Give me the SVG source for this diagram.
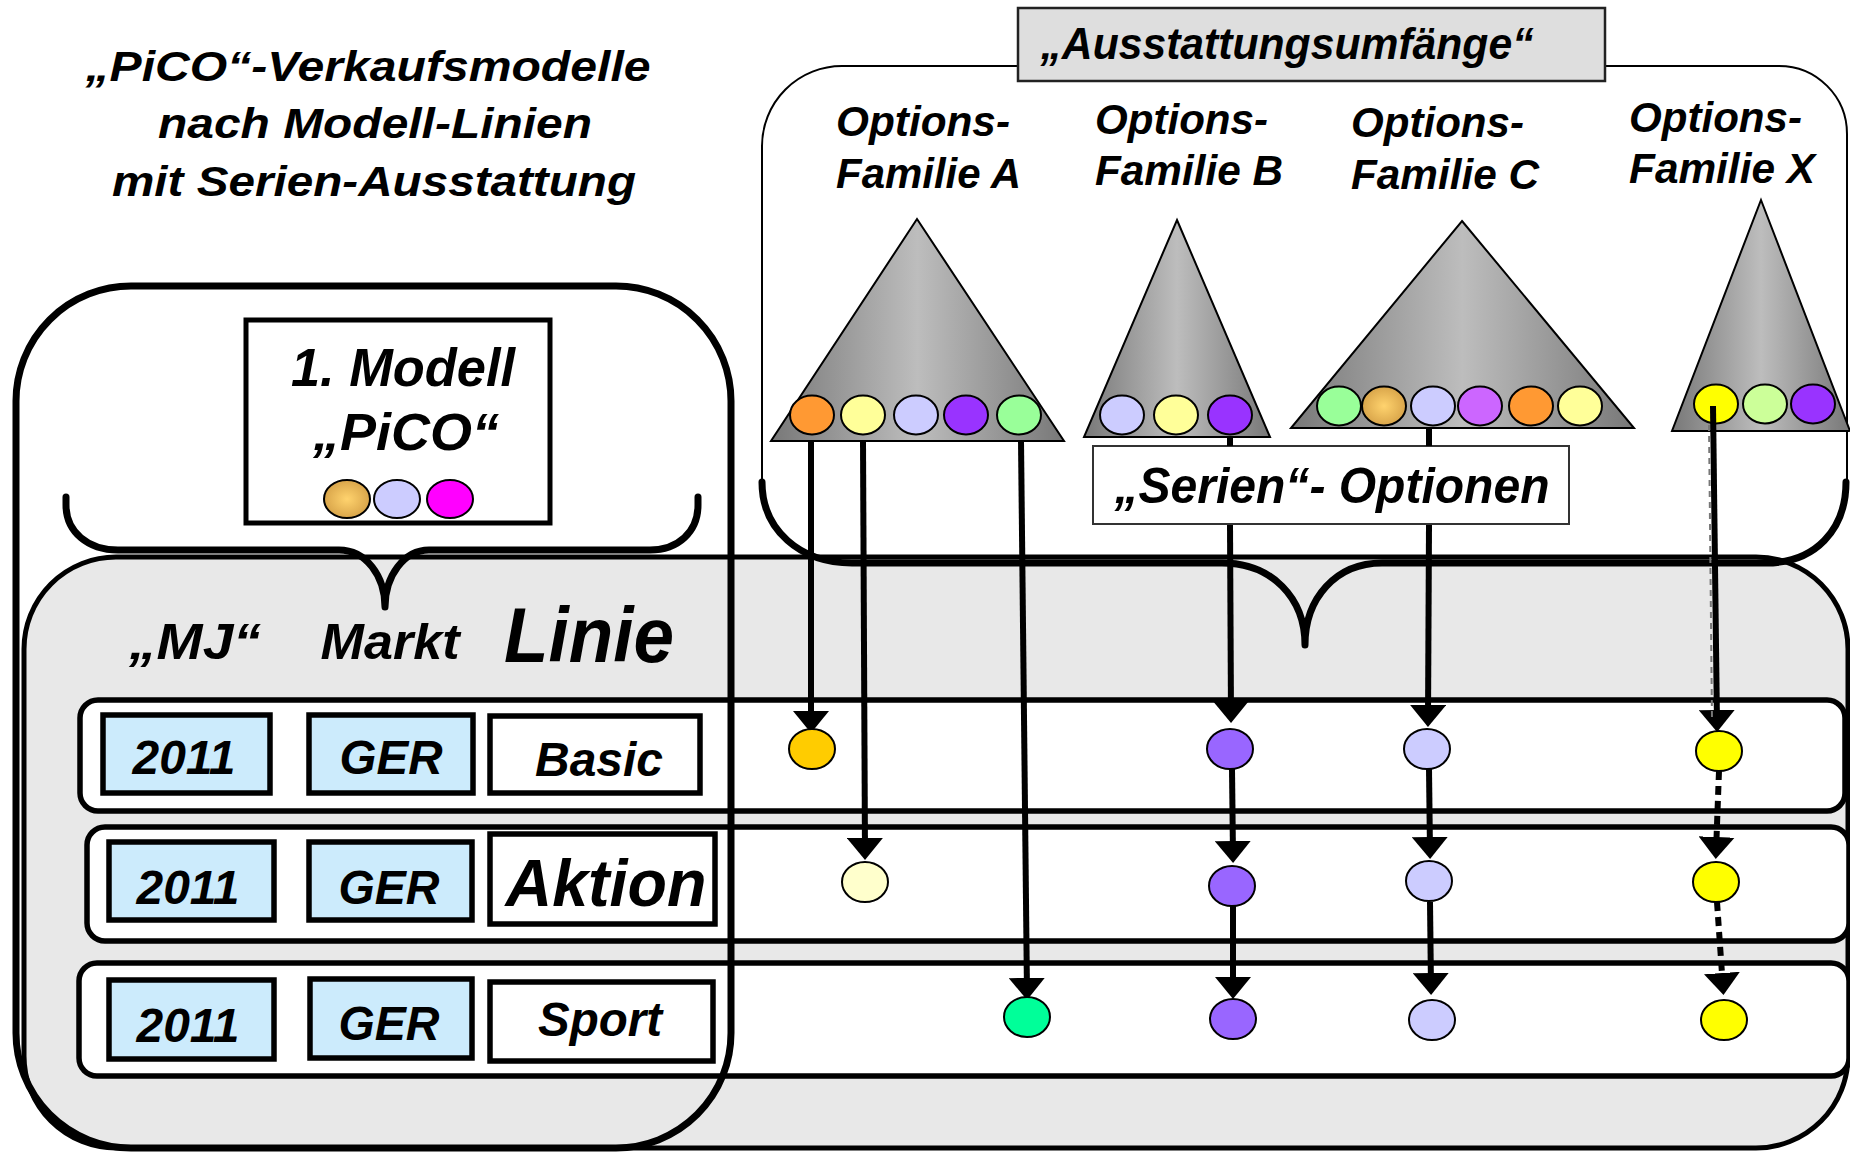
<svg xmlns="http://www.w3.org/2000/svg" width="1850" height="1154" viewBox="0 0 1850 1154">
<style>
text{font-family:"Liberation Sans",Arial,sans-serif;font-weight:bold;font-style:italic;fill:#000}
.t39{font-size:43px}
.thick{fill:none;stroke:#000;stroke-width:7;stroke-linejoin:round;stroke-linecap:round}
.row{fill:#fff;stroke:#000;stroke-width:5.5}
.cellb{fill:#CCEBFC;stroke:#000;stroke-width:5.5}
.cellw{fill:#fff;stroke:#000;stroke-width:5.5}
.tri{fill:url(#cone);stroke:#000;stroke-width:2}
.dot{stroke:#000;stroke-width:2}
.con{fill:none;stroke:#000;stroke-width:6}
.arr{marker-end:url(#ah)}
.dash{stroke-dasharray:9 6}
</style>
<defs>
<linearGradient id="cone" x1="0" y1="0" x2="1" y2="0">
<stop offset="0" stop-color="#787878"/>
<stop offset="0.5" stop-color="#bdbdbd"/>
<stop offset="1" stop-color="#787878"/>
</linearGradient>
<radialGradient id="tan" cx="0.5" cy="0.5" r="0.5">
<stop offset="0" stop-color="#FFD36E"/>
<stop offset="1" stop-color="#D9A54A"/>
</radialGradient>
<marker id="ah" viewBox="0 0 22 36" refX="15" refY="18" markerUnits="userSpaceOnUse" markerWidth="22" markerHeight="36" orient="auto">
<path d="M0,0 L22,18 L0,36 z" fill="#000"/>
</marker>
</defs>

<g id="title">
<text class="t39" x="368" y="81" text-anchor="middle" textLength="565" lengthAdjust="spacingAndGlyphs">„PiCO“-Verkaufsmodelle</text>
<text class="t39" x="375" y="138" text-anchor="middle" textLength="434" lengthAdjust="spacingAndGlyphs">nach Modell-Linien</text>
<text class="t39" x="374" y="196" text-anchor="middle" textLength="524" lengthAdjust="spacingAndGlyphs">mit Serien-Ausstattung</text>
</g>

<g id="ausstattung-frame">
<path d="M762,482 V146 A80,80 0 0 1 842,66 H1779 A68,68 0 0 1 1847,134 V482" fill="none" stroke="#000" stroke-width="2"/>
</g>

<g id="linie-panel">
<rect x="24" y="557" width="1824" height="591" rx="92" ry="92" fill="#E8E8E8" stroke="#000" stroke-width="5"/>
<text x="195" y="659" font-size="50" text-anchor="middle" textLength="132" lengthAdjust="spacingAndGlyphs">„MJ“</text>
<text x="390" y="659" font-size="50" text-anchor="middle" textLength="139" lengthAdjust="spacingAndGlyphs">Markt</text>
<text x="589" y="662" font-size="78" text-anchor="middle" textLength="170" lengthAdjust="spacingAndGlyphs">Linie</text>
</g>

<g id="ausstattung-brace">
<path class="thick" d="M762,482 C762,530 800,563 852,563 H1222 C1272,563 1305,598 1305,645 C1305,598 1336,563 1382,563 H1766 C1815,563 1846,530 1846,482"/>
</g>

<g id="row-basic">
<rect class="row" x="80" y="700" width="1765" height="111" rx="18"/>
<rect class="cellb" x="103" y="715" width="167" height="78"/>
<text x="184" y="774" font-size="48" text-anchor="middle" textLength="103" lengthAdjust="spacingAndGlyphs">2011</text>
<rect class="cellb" x="309" y="715" width="164" height="78"/>
<text x="391" y="774" font-size="48" text-anchor="middle" textLength="103" lengthAdjust="spacingAndGlyphs">GER</text>
<rect class="cellw" x="490" y="716" width="210" height="77"/>
<text x="599" y="776" font-size="48" text-anchor="middle" textLength="128" lengthAdjust="spacingAndGlyphs">Basic</text>
</g>

<g id="row-aktion">
<rect class="row" x="87" y="827" width="1762" height="114" rx="18"/>
<rect class="cellb" x="109" y="842" width="165" height="78"/>
<text x="188" y="904" font-size="48" text-anchor="middle" textLength="103" lengthAdjust="spacingAndGlyphs">2011</text>
<rect class="cellb" x="309" y="842" width="163" height="78"/>
<text x="389" y="904" font-size="48" text-anchor="middle" textLength="101" lengthAdjust="spacingAndGlyphs">GER</text>
<rect class="cellw" x="490" y="834" width="225" height="90"/>
<text x="606" y="906" font-size="67" text-anchor="middle" textLength="201" lengthAdjust="spacingAndGlyphs">Aktion</text>
</g>

<g id="row-sport">
<rect class="row" x="79" y="963" width="1770" height="113" rx="18"/>
<rect class="cellb" x="109" y="980" width="165" height="79"/>
<text x="188" y="1042" font-size="48" text-anchor="middle" textLength="103" lengthAdjust="spacingAndGlyphs">2011</text>
<rect class="cellb" x="310" y="979" width="162" height="79"/>
<text x="389" y="1040" font-size="48" text-anchor="middle" textLength="101" lengthAdjust="spacingAndGlyphs">GER</text>
<rect class="cellw" x="490" y="982" width="223" height="79"/>
<text x="600" y="1036" font-size="48" text-anchor="middle" textLength="124" lengthAdjust="spacingAndGlyphs">Sport</text>
</g>

<g id="modell-frame">
<rect x="16" y="286" width="715" height="862" rx="115" ry="115" fill="none" stroke="#000" stroke-width="7"/>
<path class="thick" d="M66,497 V505 C66,532 88,550 118,550 H339 C366,550 385,576 385,607 C385,576 404,550 429,550 H650 C678,550 698,532 698,505 V497"/>
</g>

<g id="modell-pico">
<rect x="246" y="320" width="304" height="203" fill="#fff" stroke="#000" stroke-width="5"/>
<text x="403" y="386" font-size="54" text-anchor="middle" textLength="224" lengthAdjust="spacingAndGlyphs">1. Modell</text>
<text x="406" y="450" font-size="52" text-anchor="middle" textLength="186" lengthAdjust="spacingAndGlyphs">„PiCO“</text>
<ellipse class="dot" cx="347" cy="499" rx="23" ry="19" fill="url(#tan)"/>
<ellipse class="dot" cx="397" cy="499" rx="23" ry="19" fill="#CCCCFF"/>
<ellipse class="dot" cx="450" cy="499" rx="23" ry="19" fill="#FF00FF"/>
</g>

<g id="ausstattungsumfaenge">
<rect x="1018" y="8" width="587" height="73" fill="#DEDEDE" stroke="#222" stroke-width="2.5"/>
<text x="1287" y="59" font-size="44" text-anchor="middle" textLength="493" lengthAdjust="spacingAndGlyphs">„Ausstattungsumfänge“</text>
</g>

<g id="familie-a">
<text class="t39" x="836" y="136" textLength="174" lengthAdjust="spacingAndGlyphs">Options-</text>
<text class="t39" x="836" y="188" textLength="185" lengthAdjust="spacingAndGlyphs">Familie A</text>
<polygon class="tri" points="917,219 1064,441 771,441"/>
<ellipse class="dot" cx="812" cy="415" rx="22" ry="19.5" fill="#FF9933"/>
<ellipse class="dot" cx="863" cy="415" rx="22" ry="19.5" fill="#FFFF99"/>
<ellipse class="dot" cx="916" cy="415" rx="22" ry="19.5" fill="#CCCCFF"/>
<ellipse class="dot" cx="966" cy="415" rx="22" ry="19.5" fill="#9933FF"/>
<ellipse class="dot" cx="1019" cy="415" rx="22" ry="19.5" fill="#99FF99"/>
</g>

<g id="familie-b">
<text class="t39" x="1095" y="134" textLength="173" lengthAdjust="spacingAndGlyphs">Options-</text>
<text class="t39" x="1095" y="185" textLength="188" lengthAdjust="spacingAndGlyphs">Familie B</text>
<polygon class="tri" points="1177,220 1270,437 1084,437"/>
<ellipse class="dot" cx="1122" cy="415" rx="22" ry="19.5" fill="#CCCCFF"/>
<ellipse class="dot" cx="1176" cy="415" rx="22" ry="19.5" fill="#FFFF99"/>
<ellipse class="dot" cx="1230" cy="415" rx="22" ry="19.5" fill="#9933FF"/>
</g>

<g id="familie-c">
<text class="t39" x="1351" y="137" textLength="173" lengthAdjust="spacingAndGlyphs">Options-</text>
<text class="t39" x="1351" y="189" textLength="188" lengthAdjust="spacingAndGlyphs">Familie C</text>
<polygon class="tri" points="1462,221 1634,428 1291,428"/>
<ellipse class="dot" cx="1339" cy="406" rx="22" ry="19.5" fill="#99FF99"/>
<ellipse class="dot" cx="1384" cy="406" rx="22" ry="19.5" fill="url(#tan)"/>
<ellipse class="dot" cx="1433" cy="406" rx="22" ry="19.5" fill="#CCCCFF"/>
<ellipse class="dot" cx="1480" cy="406" rx="22" ry="19.5" fill="#CC66FF"/>
<ellipse class="dot" cx="1531" cy="406" rx="22" ry="19.5" fill="#FF9933"/>
<ellipse class="dot" cx="1580" cy="406" rx="22" ry="19.5" fill="#FFFF99"/>
</g>

<g id="familie-x">
<text class="t39" x="1629" y="132" textLength="173" lengthAdjust="spacingAndGlyphs">Options-</text>
<text class="t39" x="1629" y="183" textLength="186" lengthAdjust="spacingAndGlyphs">Familie X</text>
<polygon class="tri" points="1761,200 1850,431 1672,431"/>
<ellipse class="dot" cx="1716" cy="404" rx="22" ry="19.5" fill="#FFFF00"/>
<ellipse class="dot" cx="1765" cy="404" rx="22" ry="19.5" fill="#CCFF99"/>
<ellipse class="dot" cx="1813" cy="404" rx="22" ry="19.5" fill="#9933FF"/>
</g>

<g id="serien-optionen">
<rect x="1093" y="446" width="476" height="78" fill="#fff" stroke="#333" stroke-width="2"/>
<text x="1332" y="503" font-size="50" text-anchor="middle" textLength="435" lengthAdjust="spacingAndGlyphs">„Serien“- Optionen</text>
</g>

<g id="connectors">
<path class="con arr" d="M811,441 V726"/>
<path class="con arr" d="M863,441 L865,853"/>
<path class="con arr" d="M1021,441 L1027,993"/>
<path class="con" d="M1230,437 V446"/>
<path class="con arr" d="M1230,525 L1231,716"/>
<path class="con arr" d="M1232,769 L1233,856"/>
<path class="con arr" d="M1233,906 V992"/>
<path class="con" d="M1429,428 V446"/>
<path class="con arr" d="M1429,525 L1428,720"/>
<path class="con arr" d="M1429,769 L1430,852"/>
<path class="con arr" d="M1430,902 L1431,988"/>
<path class="con arr" d="M1713,406 L1717,725"/>
<path d="M1709,425 L1712,720" fill="none" stroke="#777" stroke-width="2" stroke-dasharray="6 5"/>
<path class="con arr dash" stroke-width="7" d="M1719,771 L1716,852"/>
<path class="con arr dash" stroke-width="7" d="M1717,902 L1723,988"/>
</g>

<g id="row-options">
<ellipse class="dot" cx="812" cy="749" rx="23" ry="20" fill="#FFCC00"/>
<ellipse class="dot" cx="865" cy="882" rx="23" ry="20" fill="#FFFFCC"/>
<ellipse class="dot" cx="1027" cy="1017" rx="23" ry="20" fill="#00FF99"/>
<ellipse class="dot" cx="1230" cy="749" rx="23" ry="20" fill="#9966FF"/>
<ellipse class="dot" cx="1232" cy="886" rx="23" ry="20" fill="#9966FF"/>
<ellipse class="dot" cx="1233" cy="1019" rx="23" ry="20" fill="#9966FF"/>
<ellipse class="dot" cx="1427" cy="749" rx="23" ry="20" fill="#CCCCFF"/>
<ellipse class="dot" cx="1429" cy="881" rx="23" ry="20" fill="#CCCCFF"/>
<ellipse class="dot" cx="1432" cy="1020" rx="23" ry="20" fill="#CCCCFF"/>
<ellipse class="dot" cx="1719" cy="751" rx="23" ry="20" fill="#FFFF00"/>
<ellipse class="dot" cx="1716" cy="882" rx="23" ry="20" fill="#FFFF00"/>
<ellipse class="dot" cx="1724" cy="1020" rx="23" ry="20" fill="#FFFF00"/>
</g>
</svg>
